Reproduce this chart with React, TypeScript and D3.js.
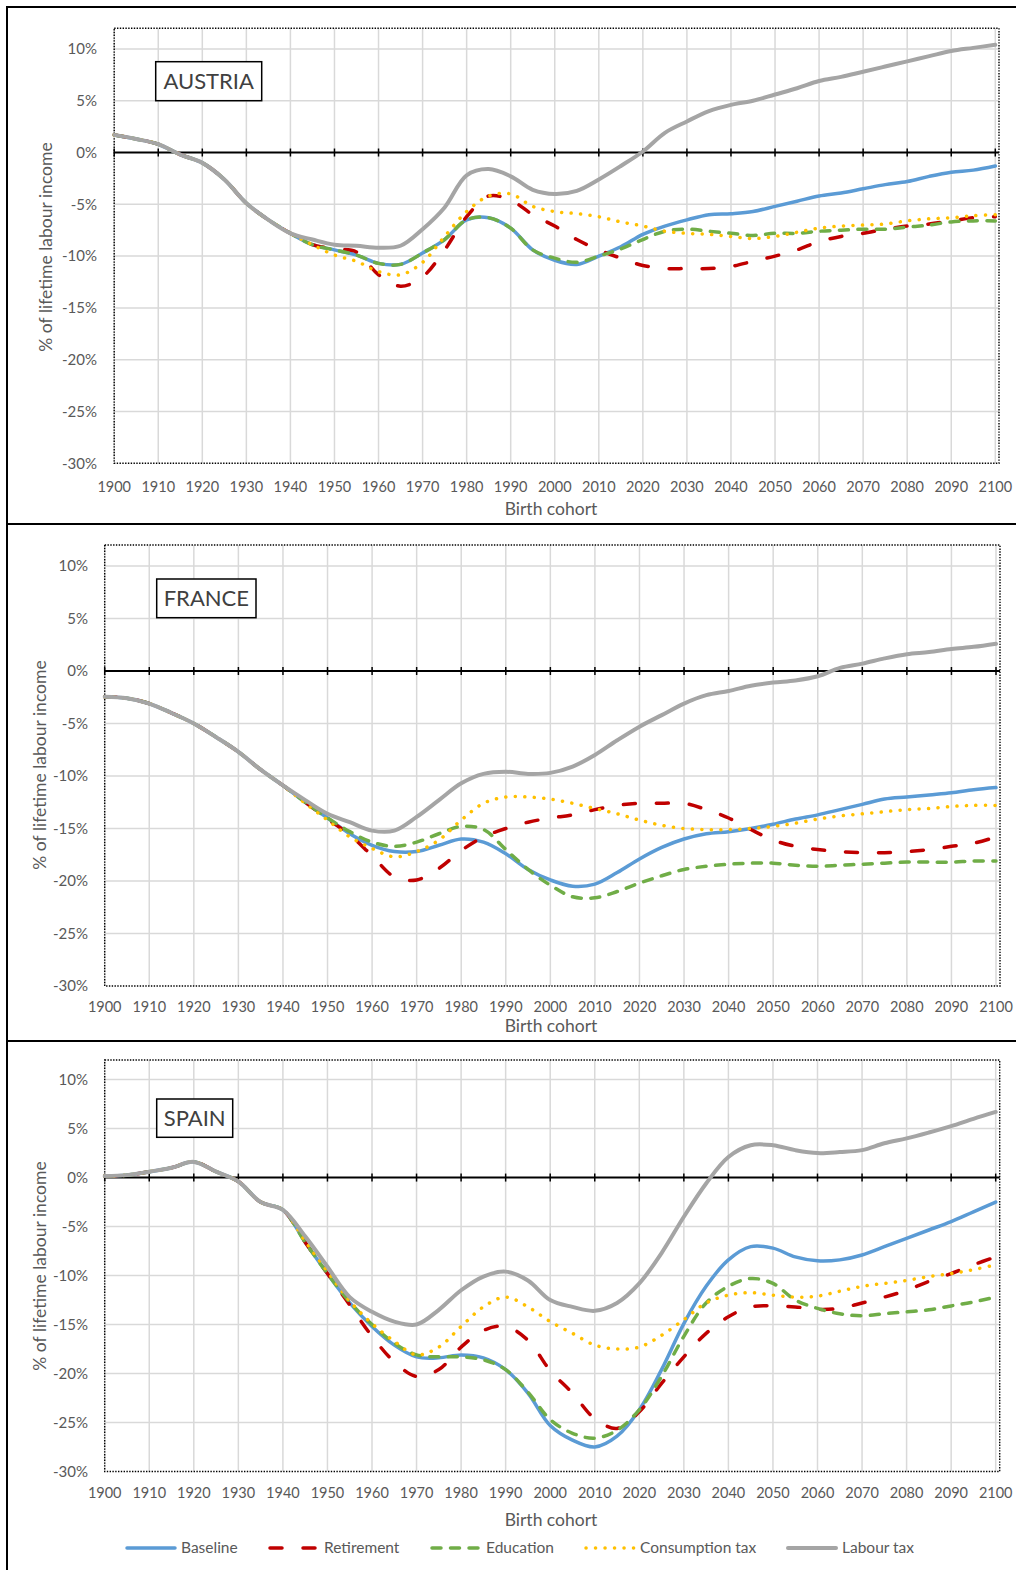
import * as React from 'react'
import * as d3 from 'd3'

// Birth cohorts sampled every 5 years
const YEARS = [
  1900, 1905, 1910, 1915, 1920, 1925, 1930, 1935, 1940, 1945, 1950, 1955, 1960, 1965,
  1970, 1975, 1980, 1985, 1990, 1995, 2000, 2005, 2010, 2015, 2020, 2025, 2030, 2035,
  2040, 2045, 2050, 2055, 2060, 2065, 2070, 2075, 2080, 2085, 2090, 2095, 2100,
]
const X_TICKS = [1900, 1910, 1920, 1930, 1940, 1950, 1960, 1970, 1980, 1990, 2000, 2010, 2020, 2030, 2040, 2050, 2060, 2070, 2080, 2090, 2100]
const Y_TICKS = [10, 5, 0, -5, -10, -15, -20, -25, -30]
const SERIES_NAMES = ['Baseline', 'Retirement', 'Education', 'Consumption tax', 'Labour tax']

// Austria
const austriaBaseline = [1.7, 1.3, 0.8, -0.2, -1.0, -2.6, -4.9, -6.5, -7.8, -8.9, -9.4, -9.9, -10.7, -10.8, -9.7, -8.4, -6.5, -6.3, -7.3, -9.4, -10.4, -10.8, -10.0, -9.1, -7.9, -7.1, -6.5, -6.0, -5.9, -5.7, -5.2, -4.7, -4.2, -3.9, -3.5, -3.1, -2.8, -2.3, -1.9, -1.7, -1.3]
const austriaRetirement = [1.7, 1.3, 0.8, -0.2, -1.0, -2.6, -4.9, -6.5, -7.8, -8.9, -9.3, -9.6, -11.8, -12.9, -12.0, -9.4, -6.2, -4.2, -4.6, -6.0, -7.1, -8.4, -9.4, -10.2, -10.9, -11.2, -11.2, -11.2, -11.0, -10.5, -10.0, -9.4, -8.6, -8.1, -7.8, -7.4, -7.1, -6.9, -6.6, -6.3, -6.2]
const austriaEducation = [1.7, 1.3, 0.8, -0.2, -1.0, -2.6, -4.9, -6.5, -7.8, -8.9, -9.4, -9.9, -10.7, -10.8, -9.7, -8.4, -6.5, -6.3, -7.3, -9.4, -10.2, -10.6, -10.0, -9.3, -8.4, -7.6, -7.4, -7.6, -7.8, -8.0, -7.8, -7.8, -7.6, -7.5, -7.4, -7.4, -7.2, -7.0, -6.7, -6.6, -6.6]
const austriaConsumption = [1.7, 1.3, 0.8, -0.2, -1.0, -2.6, -4.9, -6.5, -7.8, -8.9, -9.9, -10.5, -11.5, -11.8, -10.6, -8.1, -5.7, -4.2, -4.0, -5.2, -5.7, -5.9, -6.2, -6.7, -7.1, -7.6, -7.8, -7.9, -8.1, -8.3, -8.1, -7.7, -7.3, -7.1, -7.0, -6.9, -6.6, -6.4, -6.3, -6.1, -6.0]
const austriaLabour = [1.7, 1.3, 0.8, -0.2, -1.0, -2.6, -4.9, -6.5, -7.8, -8.4, -8.9, -9.0, -9.2, -9.0, -7.4, -5.3, -2.2, -1.6, -2.3, -3.6, -4.0, -3.7, -2.6, -1.3, 0.1, 1.9, 3.0, 4.0, 4.6, 5.0, 5.6, 6.2, 6.9, 7.3, 7.8, 8.3, 8.8, 9.3, 9.8, 10.1, 10.4]

// France
const franceBaseline = [-2.45, -2.6, -3.1, -4.0, -5.0, -6.3, -7.7, -9.4, -10.9, -12.5, -14.0, -15.5, -16.6, -17.2, -17.2, -16.6, -16.0, -16.3, -17.4, -18.9, -19.9, -20.5, -20.3, -19.2, -17.9, -16.8, -16.0, -15.5, -15.3, -15.0, -14.6, -14.1, -13.7, -13.2, -12.7, -12.2, -12.0, -11.8, -11.6, -11.3, -11.1]
const franceRetirement = [-2.45, -2.6, -3.1, -4.0, -5.0, -6.3, -7.7, -9.4, -10.9, -12.5, -14.1, -15.6, -17.6, -19.6, -19.9, -18.8, -17.1, -15.8, -15.0, -14.4, -14.0, -13.7, -13.2, -12.8, -12.6, -12.6, -12.6, -13.2, -14.0, -15.1, -16.1, -16.7, -17.0, -17.2, -17.3, -17.3, -17.2, -17.0, -16.7, -16.4, -15.8]
const franceEducation = [-2.45, -2.6, -3.1, -4.0, -5.0, -6.3, -7.7, -9.4, -10.9, -12.5, -14.0, -15.3, -16.3, -16.7, -16.3, -15.5, -14.8, -15.1, -17.0, -18.9, -20.4, -21.5, -21.6, -21.0, -20.2, -19.5, -18.9, -18.6, -18.4, -18.3, -18.3, -18.5, -18.6, -18.5, -18.4, -18.3, -18.2, -18.2, -18.2, -18.1, -18.1]
const franceConsumption = [-2.45, -2.6, -3.1, -4.0, -5.0, -6.3, -7.7, -9.4, -10.9, -12.6, -14.2, -15.8, -16.9, -17.7, -17.2, -16.1, -14.2, -12.6, -12.0, -12.0, -12.2, -12.6, -13.1, -13.6, -14.2, -14.7, -15.0, -15.1, -15.1, -15.0, -14.8, -14.5, -14.1, -13.8, -13.6, -13.4, -13.2, -13.1, -12.9, -12.8, -12.8]
const franceLabour = [-2.45, -2.6, -3.1, -4.0, -5.0, -6.3, -7.7, -9.4, -10.9, -12.3, -13.6, -14.4, -15.2, -15.2, -13.9, -12.3, -10.7, -9.8, -9.6, -9.8, -9.7, -9.1, -8.0, -6.6, -5.3, -4.2, -3.1, -2.3, -1.9, -1.4, -1.1, -0.9, -0.5, 0.3, 0.7, 1.2, 1.6, 1.8, 2.1, 2.3, 2.6]

// Spain
const spainBaseline = [0.15, 0.25, 0.6, 1.0, 1.6, 0.6, -0.4, -2.5, -3.3, -6.6, -9.8, -12.8, -15.2, -17.1, -18.3, -18.4, -18.1, -18.4, -19.6, -22.0, -25.3, -26.8, -27.5, -26.4, -23.7, -19.6, -14.9, -11.1, -8.4, -7.05, -7.2, -8.1, -8.5, -8.4, -7.9, -7.05, -6.2, -5.35, -4.5, -3.5, -2.5]
const spainRetirement = [0.15, 0.25, 0.6, 1.0, 1.6, 0.6, -0.4, -2.5, -3.3, -6.6, -9.8, -13.0, -16.2, -18.8, -20.3, -19.6, -17.3, -15.6, -15.2, -16.6, -19.7, -22.0, -24.6, -25.6, -23.9, -21.0, -18.3, -15.9, -14.2, -13.2, -13.1, -13.2, -13.45, -13.35, -12.8, -12.2, -11.5, -10.6, -9.8, -8.9, -8.1]
const spainEducation = [0.15, 0.25, 0.6, 1.0, 1.6, 0.6, -0.4, -2.5, -3.3, -6.6, -9.8, -12.7, -15.0, -16.9, -18.1, -18.3, -18.3, -18.6, -19.6, -21.9, -24.7, -26.1, -26.6, -25.8, -23.7, -20.3, -16.2, -12.8, -11.1, -10.3, -10.8, -12.5, -13.35, -13.9, -14.1, -13.9, -13.7, -13.5, -13.1, -12.7, -12.2]
const spainConsumption = [0.15, 0.25, 0.6, 1.0, 1.6, 0.6, -0.4, -2.5, -3.3, -6.5, -9.6, -12.6, -14.9, -16.7, -18.1, -17.3, -15.2, -13.2, -12.2, -13.2, -14.7, -15.9, -17.1, -17.5, -17.3, -16.1, -14.5, -12.8, -12.0, -11.75, -12.0, -12.2, -12.1, -11.6, -11.1, -10.8, -10.5, -10.1, -9.8, -9.4, -8.9]
const spainLabour = [0.15, 0.25, 0.6, 1.0, 1.6, 0.6, -0.4, -2.5, -3.3, -6.0, -9.1, -12.2, -13.7, -14.7, -15.0, -13.5, -11.5, -10.1, -9.6, -10.5, -12.5, -13.2, -13.6, -12.8, -10.8, -7.7, -4.0, -0.6, 2.1, 3.3, 3.3, 2.8, 2.5, 2.6, 2.8, 3.5, 4.0, 4.6, 5.25, 6.0, 6.7]

const STYLES = [
  { color: '#5B9BD5', width: 3.5, dash: null, cap: 'round' },
  { color: '#C00000', width: 3.5, dash: '12 21', cap: 'round' },
  { color: '#70AD47', width: 3.5, dash: '9 9.5', cap: 'round' },
  { color: '#FFC000', width: 3.5, dash: '0.1 9.4', cap: 'round' },
  { color: '#A5A5A5', width: 4, dash: null, cap: 'round' },
]

const FONT = 'Lato, "Open Sans", sans-serif'
const TEXT = '#595959'

const PANELS = [
  {
    name: 'AUSTRIA',
    series: [austriaBaseline, austriaRetirement, austriaEducation, austriaConsumption, austriaLabour],
    frameTop: 7, frameBottom: 524,
    left: 114.2, right: 995.3, borderRight: 999, top: 28.2, bottom: 463.3,
    yTickX: 97, yTitleX: 46, yTitleY: 247, xTickY: 492, xTitleY: 515,
    box: { x: 155.7, y: 61.7, w: 106, h: 39 },
  },
  {
    name: 'FRANCE',
    series: [franceBaseline, franceRetirement, franceEducation, franceConsumption, franceLabour],
    frameTop: 524, frameBottom: 1041,
    left: 104.7, right: 996, borderRight: 1000, top: 545, bottom: 986,
    yTickX: 88, yTitleX: 40, yTitleY: 765, xTickY: 1012, xTitleY: 1032,
    box: { x: 156.7, y: 579, w: 99.3, h: 38.7 },
  },
  {
    name: 'SPAIN',
    series: [spainBaseline, spainRetirement, spainEducation, spainConsumption, spainLabour],
    frameTop: 1041, frameBottom: 1600,
    left: 104.7, right: 995.7, borderRight: 999.7, top: 1060, bottom: 1471.5,
    yTickX: 88, yTitleX: 40, yTitleY: 1266, xTickY: 1498, xTitleY: 1526,
    box: { x: 156.7, y: 1099, w: 76, h: 38.3 },
  },
]

function Panel({ p }: { p: typeof PANELS[0] }) {
  const x = d3.scaleLinear().domain([1900, 2100]).range([p.left, p.right])
  const y = d3.scaleLinear().domain([-30, 12]).range([p.bottom, p.top])
  const line = d3.line<number>()
    .x((_, i) => x(YEARS[i]))
    .y(d => y(d))
    .curve(d3.curveCatmullRom.alpha(0.5))

  return (
    <g>
      {/* panel frame */}
      <rect x={7} y={p.frameTop} width={1100} height={p.frameBottom - p.frameTop}
        fill="none" stroke="#000" strokeWidth={2} />

      {/* gridlines */}
      {X_TICKS.map(t => (
        <line key={'gx' + t} x1={x(t)} x2={x(t)} y1={p.top} y2={p.bottom}
          stroke="#D9D9D9" strokeWidth={1.5} />
      ))}
      {Y_TICKS.filter(t => t !== 0 && t !== -30).map(t => (
        <line key={'gy' + t} x1={p.left} x2={p.borderRight} y1={y(t)} y2={y(t)}
          stroke="#D9D9D9" strokeWidth={1.5} />
      ))}

      {/* plot area border */}
      <rect x={p.left} y={p.top} width={p.borderRight - p.left} height={p.bottom - p.top}
        fill="none" stroke="#000" strokeWidth={1.4} strokeDasharray="1.4 1.4" />

      {/* zero axis */}
      <line x1={p.left} x2={p.borderRight} y1={y(0)} y2={y(0)} stroke="#000" strokeWidth={2} />
      {X_TICKS.map(t => (
        <line key={'tk' + t} x1={x(t)} x2={x(t)} y1={y(0) - 4} y2={y(0) + 4}
          stroke="#000" strokeWidth={1.5} />
      ))}

      {/* y tick labels */}
      {Y_TICKS.map(t => (
        <text key={'yl' + t} x={p.yTickX} y={y(t)} dy="0.35em" textAnchor="end"
          fontFamily={FONT} fontSize={15} fill={TEXT}>{t + '%'}</text>
      ))}
      {/* x tick labels */}
      {X_TICKS.map(t => (
        <text key={'xl' + t} x={x(t)} y={p.xTickY} textAnchor="middle"
          fontFamily={FONT} fontSize={14.5} fill={TEXT}>{t}</text>
      ))}

      <text x={551} y={p.xTitleY} textAnchor="middle" fontFamily={FONT} fontSize={17.5} fill={TEXT}>
        Birth cohort
      </text>
      <text transform={`translate(${p.yTitleX},${p.yTitleY}) rotate(-90)`} dy="0.35em"
        textAnchor="middle" fontFamily={FONT} fontSize={17.5} fill={TEXT}>
        % of lifetime labour income
      </text>

      {/* series */}
      {p.series.map((s, i) => {
        const st = STYLES[i]
        return (
          <path key={SERIES_NAMES[i]} d={line(s) || ''} fill="none" stroke={st.color}
            strokeWidth={st.width} strokeDasharray={st.dash || undefined}
            strokeLinecap={st.cap as any} strokeLinejoin="round" />
        )
      })}

      {/* country label */}
      <rect x={p.box.x} y={p.box.y} width={p.box.w} height={p.box.h}
        fill="#fff" stroke="#000" strokeWidth={1.5} />
      <text x={p.box.x + p.box.w / 2} y={p.box.y + p.box.h / 2} dy="0.36em" textAnchor="middle"
        fontFamily={FONT} fontSize={22} fill="#404040">{p.name}</text>
    </g>
  )
}

const LEGEND_X = [125, 268, 430, 584, 786]

export default function App() {
  const legendY = 1548
  return (
    <svg width={1016} height={1570} style={{ position: 'absolute', left: 0, top: 0, background: '#fff' }}>
      <rect width={1016} height={1570} fill="#fff" />
      {PANELS.map(p => <Panel key={p.name} p={p} />)}
      {SERIES_NAMES.map((n, i) => {
        const st = STYLES[i]
        const x0 = LEGEND_X[i]
        return (
          <g key={n}>
            <line x1={x0 + 2} x2={x0 + 50} y1={legendY} y2={legendY} stroke={st.color}
              strokeWidth={st.width} strokeDasharray={st.dash || undefined}
              strokeLinecap={st.cap as any} />
            <text x={x0 + 56} y={legendY} dy="0.35em" fontFamily={FONT} fontSize={15.5} fill={TEXT}>{n}</text>
          </g>
        )
      })}
    </svg>
  )
}
